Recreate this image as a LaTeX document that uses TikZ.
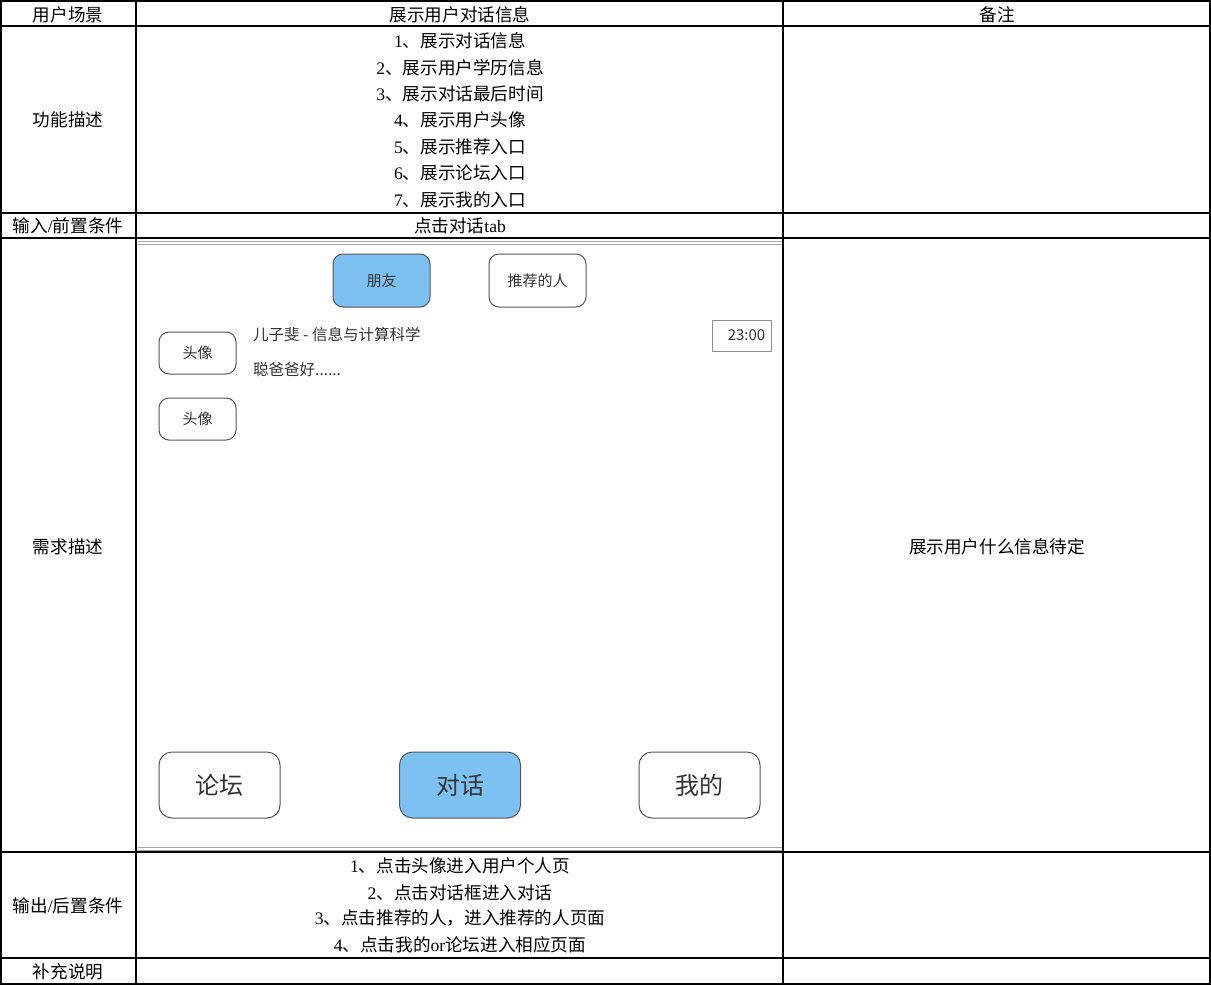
\documentclass[tikz,border=0pt]{standalone}
\usepackage{fontspec}
\setmainfont{Liberation Serif}
\newfontfamily\cjk{Noto Sans CJK SC}
\definecolor{btnblue}{HTML}{7CC1F2}
\definecolor{btnline}{HTML}{555555}
\definecolor{txtgray}{HTML}{333333}
\begin{document}
\begin{tikzpicture}[x=1pt,y=-1pt,
  grid/.style={line width=1.6pt,black},
  cell/.style={font=\cjk\fontsize{17.6}{20}\selectfont,inner sep=0pt,anchor=center},
  btn/.style={draw=btnline,line width=1pt,rounded corners=10pt,inner sep=0pt,font=\cjk\fontsize{15}{17}\selectfont,text=txtgray},
  bigbtn/.style={btn,rounded corners=13pt,font=\cjk\fontsize{24}{27}\selectfont},
  sel/.style={fill=btnblue},
  mock/.style={font=\cjk\fontsize{15.5}{18}\selectfont,text=txtgray,inner sep=0pt,anchor=west}]
\useasboundingbox (0,0) rectangle (1211,985);
\fill[white] (0,0) rectangle (1211,985);
% table grid
\draw[grid] (1,1) rectangle (1210,984);
\foreach \y in {26,213,238,852,958} \draw[grid] (1,\y) -- (1210,\y);
\draw[grid] (136,1) -- (136,984);
\draw[grid] (783,1) -- (783,984);
% header row
\node[cell] (h1) at (68,15) {用户场景};
\node[cell] (h2) at (460,15) {展示用户对话信息};
\node[cell] (h3) at (997,15) {备注};
% function row
\node[cell] (f0) at (68,120) {功能描述};
\node[cell] (f1) at (460,41) {{\rmfamily 1}、展示对话信息};
\node[cell] (f2) at (460,67.5) {{\rmfamily 2}、展示用户学历信息};
\node[cell] (f3) at (460,94) {{\rmfamily 3}、展示对话最后时间};
\node[cell] (f4) at (460,120) {{\rmfamily 4}、展示用户头像};
\node[cell] (f5) at (460,146.5) {{\rmfamily 5}、展示推荐入口};
\node[cell] (f6) at (460,173) {{\rmfamily 6}、展示论坛入口};
\node[cell] (f7) at (460,199.5) {{\rmfamily 7}、展示我的入口};
% input row
\node[cell] (i0) at (68,226) {输入{\rmfamily /}前置条件};
\node[cell] (i1) at (460,226) {点击对话{\rmfamily tab}};
% requirement row
\node[cell] (r0) at (68,547) {需求描述};
\node[cell] (r2) at (997,547) {展示用户什么信息待定};
% mockup frame
\draw[gray!70,line width=1pt] (138,241) -- (782,241);
\draw[gray!70,line width=1pt] (138,244) -- (782,244);
\draw[gray!70,line width=1pt] (138,847) -- (782,847);
\draw[gray!70,line width=1pt] (138,850) -- (782,850);
\node[btn,sel,minimum width=97pt,minimum height=53pt] (friend) at (381.5,280.5) {朋友};
\node[btn,minimum width=97pt,minimum height=53pt] (recom) at (537.5,280.5) {推荐的人};
\node[btn,minimum width=77pt,minimum height=42pt] (av1) at (197.5,353) {头像};
\node[btn,minimum width=77pt,minimum height=42pt] (av2) at (197.5,419) {头像};
\node[mock] (name) at (253,335) {儿子斐 - 信息与计算科学};
\node[mock] (msg) at (253,370) {聪爸爸好......};
\node[draw=gray!90,line width=1pt,minimum width=59pt,minimum height=31pt,inner sep=0pt,font=\cjk\fontsize{15}{17}\selectfont,text=txtgray] (time) at (741.5,335.5) {\hspace*{10pt}23:00};
\node[bigbtn,minimum width=121pt,minimum height=66pt] (forum) at (219.5,785) {论坛};
\node[bigbtn,sel,minimum width=121pt,minimum height=66pt] (chat) at (460,785) {对话};
\node[bigbtn,minimum width=121pt,minimum height=66pt] (mine) at (699.5,785) {我的};
% output row
\node[cell] (o0) at (68,906) {输出{\rmfamily /}后置条件};
\node[cell] (o1) at (460,866) {{\rmfamily 1}、点击头像进入用户个人页};
\node[cell] (o2) at (460,892.5) {{\rmfamily 2}、点击对话框进入对话};
\node[cell] (o3) at (460,918.5) {{\rmfamily 3}、点击推荐的人，进入推荐的人页面};
\node[cell] (o4) at (460,945) {{\rmfamily 4}、点击我的{\rmfamily or}论坛进入相应页面};
% supplement row
\node[cell] (s0) at (68,972) {补充说明};
\end{tikzpicture}
\end{document}
